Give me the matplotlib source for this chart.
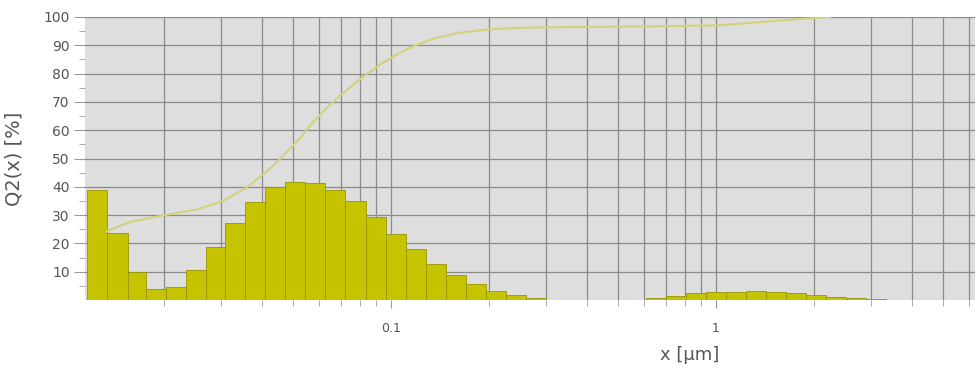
import matplotlib
matplotlib.use("Agg")
import matplotlib.pyplot as plt
from matplotlib.ticker import LogLocator, FixedLocator, NullFormatter, FixedFormatter

# Histogram bin edges (µm) and heights (%)
bin_edges = [0.01161, 0.01337, 0.01551, 0.01763, 0.02031, 0.02339, 0.02696, 0.03085,
             0.03555, 0.04095, 0.04718, 0.05436, 0.06262, 0.07216, 0.08377, 0.09652,
             0.1112, 0.1281, 0.1476, 0.1701, 0.1960, 0.2258, 0.2602, 0.2998,
             0.3455, 0.3981, 0.4587, 0.5286, 0.6091, 0.7017, 0.8086, 0.9317,
             1.0735, 1.2368, 1.4251, 1.6421, 1.8920, 2.180, 2.512, 2.894, 3.335]
bin_heights = [39.0, 23.8, 10.0, 3.8, 4.7, 10.7, 18.7, 27.2,
               34.8, 40.0, 41.8, 41.3, 39.0, 35.0, 29.2, 23.2,
               17.9, 12.7, 8.7, 5.6, 3.2, 1.8, 0.8,
               0.0, 0.0, 0.0, 0.0, 0.0,
               0.8, 1.4, 2.4, 2.8, 2.9, 3.2, 2.9, 2.4, 1.8, 1.2, 0.7, 0.5]

# Cumulative curve Q2(x)
curve_x = [0.01337, 0.01574, 0.02017, 0.02530, 0.03042, 0.03605, 0.04155, 0.04620,
           0.05323, 0.05633, 0.0620, 0.06968, 0.08029, 0.09251, 0.1043, 0.1168,
           0.1346, 0.1596, 0.1974, 0.2493, 0.3311, 0.5065, 1.0, 1.366, 1.813, 2.243]
curve_y = [24.3, 27.6, 30.0, 32.0, 35.0, 39.8, 45.5, 50.5,
           58.0, 61.5, 66.8, 72.3, 78.0, 83.2, 86.8, 89.6,
           92.3, 94.3, 95.6, 96.2, 96.4, 96.6, 97.0, 98.2, 99.3, 100.0]

y_ticks = [10, 20, 30, 40, 50, 60, 70, 80, 90, 100]
x_tick_vals = [0.1, 1]
x_tick_labels = ["0.1", "1"]

fig = plt.figure(figsize=(9.79, 3.69), dpi=100)
ax = fig.add_axes([85/979, (369-300)/369, (975-85)/979, (300-17)/369])
ax.set_facecolor("#dedede")

widths = [bin_edges[i+1] - bin_edges[i] for i in range(len(bin_heights))]
ax.bar(bin_edges[:-1], bin_heights, width=widths, align="edge",
       color="#c6c400", edgecolor="#989600", linewidth=0.6, zorder=3)
ax.plot(curve_x, curve_y, color="#d2d27c", linewidth=1.5, zorder=4)

ax.set_xscale("log")
ax.set_xlim(0.01144, 6.26)
ax.set_ylim(0, 100)

ax.xaxis.set_major_locator(FixedLocator(x_tick_vals))
ax.xaxis.set_major_formatter(FixedFormatter(x_tick_labels))
ax.xaxis.set_minor_locator(LogLocator(base=10, subs=[2, 3, 4, 5, 6, 7, 8, 9], numticks=20))
ax.xaxis.set_minor_formatter(NullFormatter())
ax.set_yticks(y_ticks)
ax.set_yticks([5, 15, 25, 35, 45, 55, 65, 75, 85, 95], minor=True)

ax.grid(True, which="major", axis="both", color="#8a8a8a", linewidth=0.9, zorder=1)
ax.grid(True, which="minor", axis="x", color="#8a8a8a", linewidth=0.9, zorder=1)
ax.set_axisbelow(True)

for s in ax.spines.values():
    s.set_visible(False)

ax.tick_params(axis="y", which="major", length=8, color="#9a9a9a", labelsize=10,
               labelcolor="#555555", pad=3)
ax.tick_params(axis="y", which="minor", length=4, color="#9a9a9a")
ax.tick_params(axis="x", which="major", length=6, color="#9a9a9a", labelsize=9,
               labelcolor="#555555", pad=10)
ax.tick_params(axis="x", which="minor", length=4, color="#9a9a9a")

ax.set_ylabel("Q2(x) [%]", fontsize=14, color="#555555", labelpad=6)
ax.yaxis.set_label_coords(-(85 - 24) / 890, 0.5)
fig.text(690/979, 1 - 355/369, "x [µm]", fontsize=13, color="#555555",
         ha="center", va="center")

fig.savefig("out.png", dpi=100)
